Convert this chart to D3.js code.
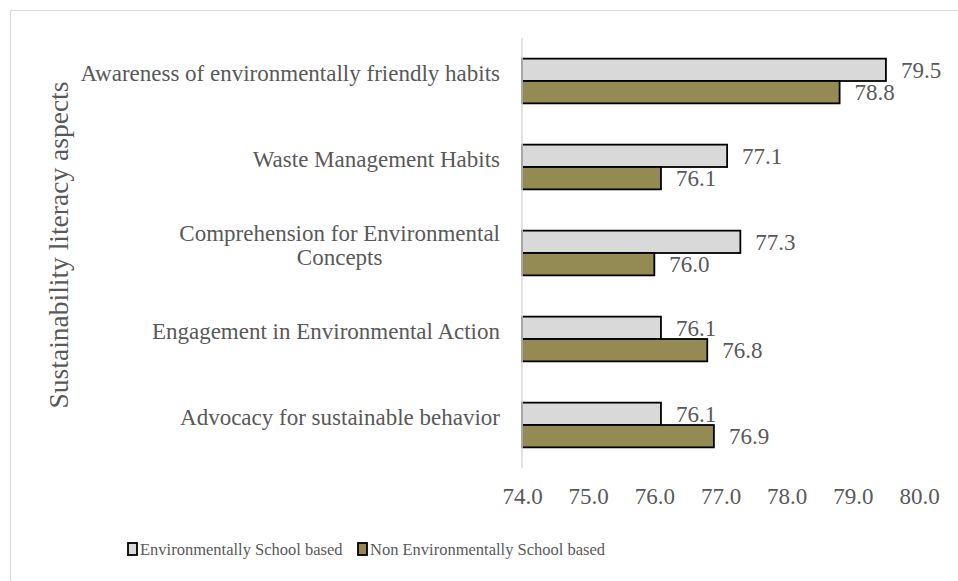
<!DOCTYPE html>
<html>
<head>
<meta charset="utf-8">
<script src="https://cdn.jsdelivr.net/npm/d3@7"></script>
<style>
  body { margin: 0; background: #fff; }
  text { font-family: "Liberation Serif", "DejaVu Serif", serif; fill: #595959; }
</style>
</head>
<body>
<div id="chart"></div>
<script>
const categories = [
  ['Awareness of environmentally friendly habits'],
  ['Waste Management Habits'],
  ['Comprehension for Environmental', 'Concepts'],
  ['Engagement in Environmental Action'],
  ['Advocacy for sustainable behavior']
]
const envSchool = [79.5, 77.1, 77.3, 76.1, 76.1]
const nonEnvSchool = [78.8, 76.1, 76.0, 76.8, 76.9]
const seriesNames = ['Environmentally School based', 'Non Environmentally School based']
const seriesColors = ['#d9d9d9', '#948a54']
const xTicks = [74, 75, 76, 77, 78, 79, 80]

const width = 958, height = 581
const margin = { top: 38, right: 39, bottom: 113, left: 522 }
const fs = 23

const svg = d3.select('#chart').append('svg')
  .attr('width', width)
  .attr('height', height)

// outer frame
svg.append('rect')
  .attr('x', 10.5).attr('y', 10.5)
  .attr('width', width + 20).attr('height', height + 20)
  .attr('fill', 'none')
  .attr('stroke', '#d9d9d9')

const x = d3.scaleLinear().domain([74, 80]).range([margin.left, width - margin.right])
const y = d3.scaleBand()
  .domain(d3.range(categories.length))
  .range([margin.top, height - margin.bottom])
  .paddingInner(0.48).paddingOuter(0.24)
const sub = d3.scaleBand().domain([0, 1]).range([0, y.bandwidth()])

const data = categories.map((c, i) => ({ i, values: [envSchool[i], nonEnvSchool[i]] }))

const groups = svg.append('g').selectAll('g')
  .data(data)
  .join('g')
  .attr('transform', d => `translate(0,${y(d.i)})`)

groups.selectAll('rect')
  .data(d => d.values.map((v, s) => ({ v, s })))
  .join('rect')
  .attr('x', x(74))
  .attr('y', d => sub(d.s))
  .attr('width', d => x(d.v) - x(74))
  .attr('height', sub.bandwidth())
  .attr('fill', d => seriesColors[d.s])
  .attr('stroke', '#000')
  .attr('stroke-width', 1.8)

groups.selectAll('text.val')
  .data(d => d.values.map((v, s) => ({ v, s })))
  .join('text')
  .attr('class', 'val')
  .attr('x', d => x(d.v) + 15)
  .attr('y', d => sub(d.s) + sub.bandwidth() / 2)
  .attr('dy', '0.35em')
  .attr('font-size', fs)
  .text(d => d.v.toFixed(1))

// category axis line
svg.append('line')
  .attr('x1', x(74)).attr('x2', x(74))
  .attr('y1', margin.top).attr('y2', height - margin.bottom)
  .attr('stroke', '#d9d9d9')
  .attr('stroke-width', 1.5)

// category labels
const labelX = margin.left - 22
const catLabels = svg.append('g').selectAll('text')
  .data(categories)
  .join('text')
  .attr('text-anchor', 'end')
  .attr('font-size', fs)
  .attr('x', labelX)
  .attr('y', (d, i) => y(i) + y.bandwidth() / 2 - (d.length - 1) * 12)
  .attr('dy', '0.35em')
catLabels.selectAll('tspan')
  .data(d => d)
  .join('tspan')
  .attr('x', labelX)
  .attr('dy', (d, j) => j === 0 ? 0 : 24)
  .text(d => d)
// second line of wrapped label is centered under the first
catLabels.each(function (d) {
  if (d.length > 1) {
    const spans = d3.select(this).selectAll('tspan').nodes()
    const w0 = spans[0].getComputedTextLength()
    const w1 = spans[1].getComputedTextLength()
    d3.select(spans[1]).attr('x', labelX - (w0 - w1) / 2)
  }
})

// value axis
svg.append('g')
  .attr('transform', `translate(0,${height - margin.bottom})`)
  .call(d3.axisBottom(x).tickValues(xTicks).tickFormat(d3.format('.1f')).tickSize(0).tickPadding(20))
  .call(g => g.select('.domain').remove())
  .call(g => g.selectAll('text').attr('font-size', fs).attr('font-family', null).attr('fill', '#595959'))

// y axis title
svg.append('text')
  .attr('transform', `translate(68,245) rotate(-90)`)
  .attr('text-anchor', 'middle')
  .attr('font-size', 27.5)
  .text('Sustainability literacy aspects')

// legend
const legendX = [128, 358]
const legend = svg.append('g').selectAll('g')
  .data(seriesNames)
  .join('g')
  .attr('transform', (d, i) => `translate(${legendX[i]},549)`)
legend.append('rect')
  .attr('x', 0).attr('y', -6)
  .attr('width', 9).attr('height', 12)
  .attr('fill', (d, i) => seriesColors[i])
  .attr('stroke', '#000')
  .attr('stroke-width', 1.8)
legend.append('text')
  .attr('x', 12).attr('dy', '0.35em')
  .attr('font-size', 16.5)
  .text(d => d)
</script>
</body>
</html>
